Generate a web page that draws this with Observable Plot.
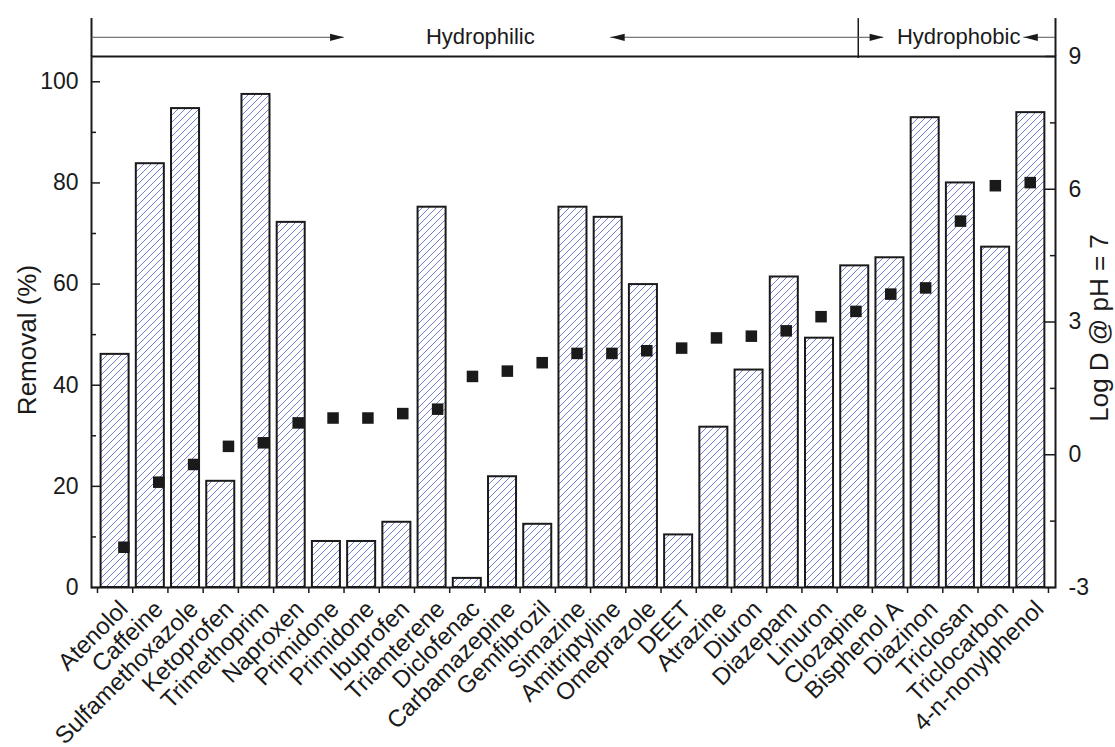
<!DOCTYPE html>
<html><head><meta charset="utf-8">
<script src="https://cdn.jsdelivr.net/npm/d3@7"></script>
<script src="https://cdn.jsdelivr.net/npm/@observablehq/plot@0.6"></script>
<style>html,body{margin:0;padding:0;background:#fff} svg{display:block}</style>
</head><body><div id="chart"></div>
<script>
// ---- data ----
const compounds = ["Atenolol","Caffeine","Sulfamethoxazole","Ketoprofen","Trimethoprim","Naproxen","Primidone","Primidone","Ibuprofen","Triamterene","Diclofenac","Carbamazepine","Gemfibrozil","Simazine","Amitriptyline","Omeprazole","DEET","Atrazine","Diuron","Diazepam","Linuron","Clozapine","Bisphenol A","Diazinon","Triclosan","Triclocarbon","4-n-nonylphenol"];
const removal = [46.1,83.8,94.7,21.0,97.5,72.2,9.1,9.1,12.9,75.2,1.8,21.9,12.5,75.2,73.2,59.9,10.4,31.7,43.0,61.4,49.3,63.6,65.2,92.9,80.0,67.3,93.9];
const logD = [-2.09,-0.62,-0.22,0.19,0.27,0.72,0.83,0.83,0.93,1.03,1.77,1.89,2.08,2.29,2.29,2.35,2.41,2.64,2.68,2.80,3.12,3.24,3.63,3.77,5.28,6.08,6.15];
const leftTickValues = [0,20,40,60,80,100];
const leftMinorValues = [10,30,50,70,90];
const rightTickValues = [-3,0,3,6,9];
const rightMinorValues = [-1.5,1.5,4.5,7.5];
const groupNames = ["Hydrophilic","Hydrophobic"];

// ---- layout ----
const W = 1115, H = 747, mL = 91, mR = 60, mT = 56, mB = 160;
const frameW = W - mL - mR, frameH = H - mT - mB;
const xDomain = [-0.17, 27.2];
const yDomain = [0, 105];
const logDomain = [-3, 9];
const toLeft = v => (v - logDomain[0]) * (yDomain[1] - yDomain[0]) / (logDomain[1] - logDomain[0]);
const idx = d3.range(compounds.length);
// second (Log D) layer x mapping is slightly offset in the original
const dotX = i => 0.75 + i * 0.9897;

// header annotation (in category-index units)
const split = 21.6, headerTop = 112.5, arrowY = 108.8;
const segments = [{x1: xDomain[0], x2: 7.0}, {x1: 14.57, x2: split}, {x1: split, x2: 22.32}, {x1: 26.3, x2: xDomain[1]}];
const headsRight = [7.0, 22.32];
const headsLeft = [14.57, 26.3];
const groupText = [{x: 10.87, label: groupNames[0]}, {x: 24.45, label: groupNames[1]}];
const headR = {draw(ctx){ ctx.moveTo(0,0); ctx.lineTo(-14,-3.6); ctx.lineTo(-14,3.6); ctx.closePath(); }};
const headL = {draw(ctx){ ctx.moveTo(0,0); ctx.lineTo(14,-3.6); ctx.lineTo(14,3.6); ctx.closePath(); }};

const ink = "#1a1a1a";
const svg = Plot.plot({
  width: W, height: H,
  marginLeft: mL, marginRight: mR, marginTop: mT, marginBottom: mB,
  style: {fontFamily: "'Liberation Sans', Arial, sans-serif", color: ink, background: "#fff", overflow: "visible"},
  x: {type: "linear", domain: xDomain, axis: null},
  y: {domain: yDomain, axis: null},
  marks: [
    Plot.rect(idx, {x1: i => i, x2: i => i + 1, y1: () => 0, y2: i => removal[i], insetLeft: 3.6, insetRight: 3.6,
      fill: "url(#hatch)", stroke: ink, strokeWidth: 2}),
    Plot.frame({stroke: ink, strokeWidth: 2}),
    Plot.ruleX([xDomain[0], xDomain[1]], {y1: () => yDomain[1], y2: () => headerTop, stroke: ink, strokeWidth: 2}),
    Plot.ruleX([split], {y1: () => 104.6, y2: () => headerTop, stroke: ink, strokeWidth: 1.5}),
    Plot.ruleY(segments, {y: () => arrowY, x1: "x1", x2: "x2", stroke: "#555", strokeWidth: 1}),
    Plot.dot(headsRight, {x: d => d, y: () => arrowY, symbol: headR, r: 5, fill: ink, stroke: "none"}),
    Plot.dot(headsLeft, {x: d => d, y: () => arrowY, symbol: headL, r: 5, fill: ink, stroke: "none"}),
    Plot.text(groupText, {x: "x", y: () => arrowY, text: "label", textAnchor: "middle", fontSize: 22, fill: ink}),
    // ticks
    Plot.tickY(leftTickValues, {y: d => d, insetRight: frameW - 9, stroke: ink, strokeWidth: 1.5}),
    Plot.tickY(leftMinorValues, {y: d => d, insetRight: frameW - 5, stroke: ink, strokeWidth: 1.5}),
    Plot.tickY(rightTickValues, {y: d => toLeft(d), insetLeft: frameW - 10, stroke: ink, strokeWidth: 1.5}),
    Plot.tickY(rightMinorValues, {y: d => toLeft(d), insetLeft: frameW - 5, stroke: ink, strokeWidth: 1.5}),
    Plot.tickX(d3.range(compounds.length + 1), {x: d => d, insetTop: frameH, insetBottom: -6, stroke: ink, strokeWidth: 1.5}),
    // tick labels
    Plot.text(leftTickValues, {y: d => d, frameAnchor: "left", dx: -13, textAnchor: "end", text: d => String(d), fontSize: 23, fill: ink}),
    Plot.text(rightTickValues, {y: d => toLeft(d), frameAnchor: "right", dx: 13, textAnchor: "start", text: d => String(d), fontSize: 23, fill: ink}),
    Plot.text(idx, {x: i => i + 0.5, text: i => compounds[i], frameAnchor: "bottom", dy: 11, dx: 2, rotate: -45,
      textAnchor: "end", lineAnchor: "top", fontSize: 24, fill: ink}),
    // axis titles
    Plot.text(["Removal (%)"], {text: d => d, frameAnchor: "left", dx: -64, dy: 18, rotate: -90, textAnchor: "middle", lineAnchor: "middle", fontSize: 26, fill: ink}),
    Plot.text(["Log D @ pH = 7"], {text: d => d, frameAnchor: "right", dx: 44, dy: 6, rotate: -90, textAnchor: "middle", lineAnchor: "middle", fontSize: 26, fill: ink}),
    // Log D squares
    Plot.dot(idx, {x: dotX, y: i => toLeft(logD[i]), symbol: "square", r: 6.5, fill: ink, stroke: "none"})
  ]
});
d3.select(svg).insert("defs", ":first-child").html(
  '<pattern id="hatch" patternUnits="userSpaceOnUse" width="7" height="7">' +
  '<rect width="7" height="7" fill="#fff"/>' +
  '<path d="M-1,1 l2,-2 M0,7 l7,-7 M6,8 l2,-2" stroke="#4155c4" stroke-width="0.75"/></pattern>');
document.getElementById("chart").appendChild(svg);
</script>
</body></html>
